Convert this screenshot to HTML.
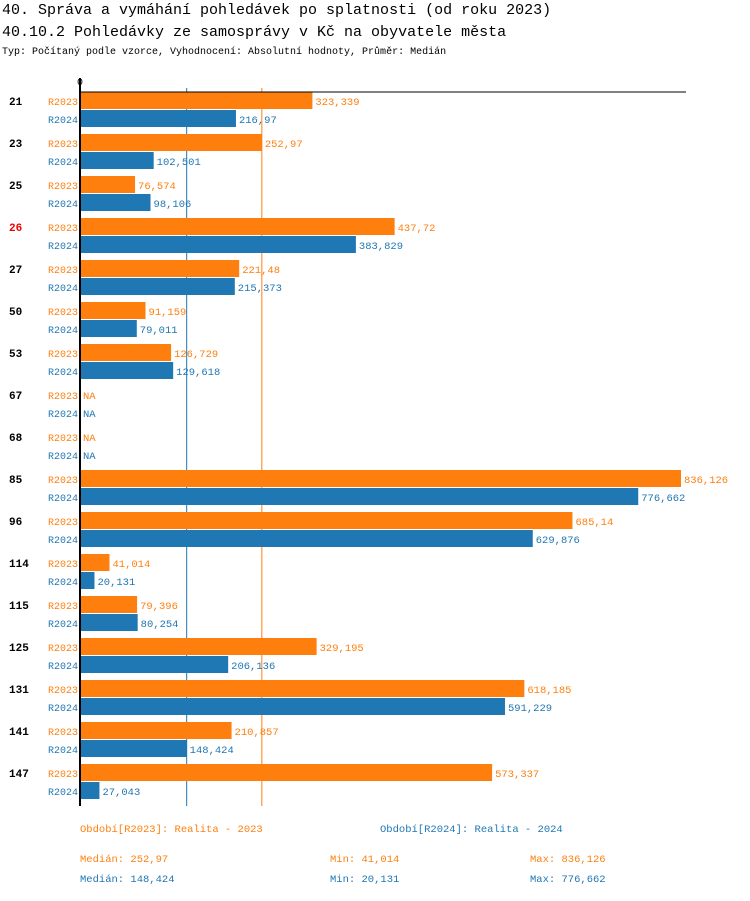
<!DOCTYPE html>
<html><head><meta charset="utf-8"><style>
body{margin:0;background:#fff;}
svg text{font-family:"Liberation Mono",monospace;}
</style></head><body>
<svg id="c" width="750" height="896" xmlns="http://www.w3.org/2000/svg">
<text x="2" y="14" font-size="15" fill="#000">40. Správa a vymáhání pohledávek po splatnosti (od roku 2023)</text>
<text x="2" y="36" font-size="15" fill="#000">40.10.2 Pohledávky ze samosprávy v Kč na obyvatele města</text>
<text x="2" y="54" font-size="10" fill="#000">Typ: Počítaný podle vzorce, Vyhodnocení: Absolutní hodnoty, Průměr: Medián</text>
<g id="plot"></g>
<text x="80" y="832" font-size="10.5" fill="#ff7f0e">Období[R2023]: Realita - 2023</text>
<text x="380" y="832" font-size="10.5" fill="#1f77b4">Období[R2024]: Realita - 2024</text>
<text x="80" y="862" font-size="10.5" fill="#ff7f0e">Medián: 252,97</text>
<text x="330" y="862" font-size="10.5" fill="#ff7f0e">Min: 41,014</text>
<text x="530" y="862" font-size="10.5" fill="#ff7f0e">Max: 836,126</text>
<text x="80" y="882" font-size="10.5" fill="#1f77b4">Medián: 148,424</text>
<text x="330" y="882" font-size="10.5" fill="#1f77b4">Min: 20,131</text>
<text x="530" y="882" font-size="10.5" fill="#1f77b4">Max: 776,662</text>
</svg>
<script>
const categories=["21","23","25","26","27","50","53","67","68","85","96","114","115","125","131","141","147"];
const r2023=[323.339,252.97,76.574,437.72,221.48,91.159,126.729,null,null,836.126,685.14,41.014,79.396,329.195,618.185,210.857,573.337];
const r2024=[216.97,102.501,98.106,383.829,215.373,79.011,129.618,null,null,776.662,629.876,20.131,80.254,206.136,591.229,148.424,27.043];
const highlight="26";
const median2023=252.97, median2024=148.424;
const NS="http://www.w3.org/2000/svg";
const g=document.getElementById('plot');
const x0=80, xMaxPx=681, vMax=836.126;
const xs=v=>x0+v*(xMaxPx-x0)/vMax;
const top0=92, step=42, barH=17;
const yG=i=>top0+i*step;
function mk(t,a){const e=document.createElementNS(NS,t);for(const k in a)e.setAttribute(k,a[k]);g.appendChild(e);return e;}
const fmt=v=>String(v).replace('.',',');
const endY=yG(categories.length-1)+step;
let e;
e=mk('line',{x1:xs(median2024),x2:xs(median2024),y1:88,y2:endY,stroke:'#1f77b4','stroke-width':1});


e=mk('line',{x1:xs(median2023),x2:xs(median2023),y1:88,y2:endY,stroke:'#ff7f0e','stroke-width':1});


categories.forEach((c,i)=>{
  const y=yG(i);
  e=mk('text',{x:9,y:y+13,'font-size':11,'font-weight':'bold',fill:c===highlight?'#e00':'#000'});
  e.textContent=c;
  
  
  [[r2023,'#ff7f0e','R2023',0],[r2024,'#1f77b4','R2024',18]].forEach(([arr,col,lab,off])=>{
    const yy=y+off, v=arr[i];
    e=mk('text',{x:78,y:yy+13,'font-size':10,'text-anchor':'end',fill:col});
    e.textContent=lab;
    
    
    if(v!==null){
      e=mk('rect',{x:x0,y:yy,width:xs(v)-x0,height:barH,fill:col});
      
      
    }
    e=mk('text',{x:(v!==null?xs(v):x0)+3,y:yy+13,'font-size':10.5,fill:col});
    e.textContent=v!==null?fmt(v):'NA';
    
    
  });
});
e=mk('line',{x1:x0,x2:686,y1:92,y2:92,stroke:'#000','stroke-width':1});


e=mk('line',{x1:x0,x2:x0,y1:78,y2:endY,stroke:'#000','stroke-width':2});


e=mk('text',{x:x0,y:85,'font-size':10,'text-anchor':'middle',fill:'#000'});
e.textContent='0';


</script>
</body></html>
